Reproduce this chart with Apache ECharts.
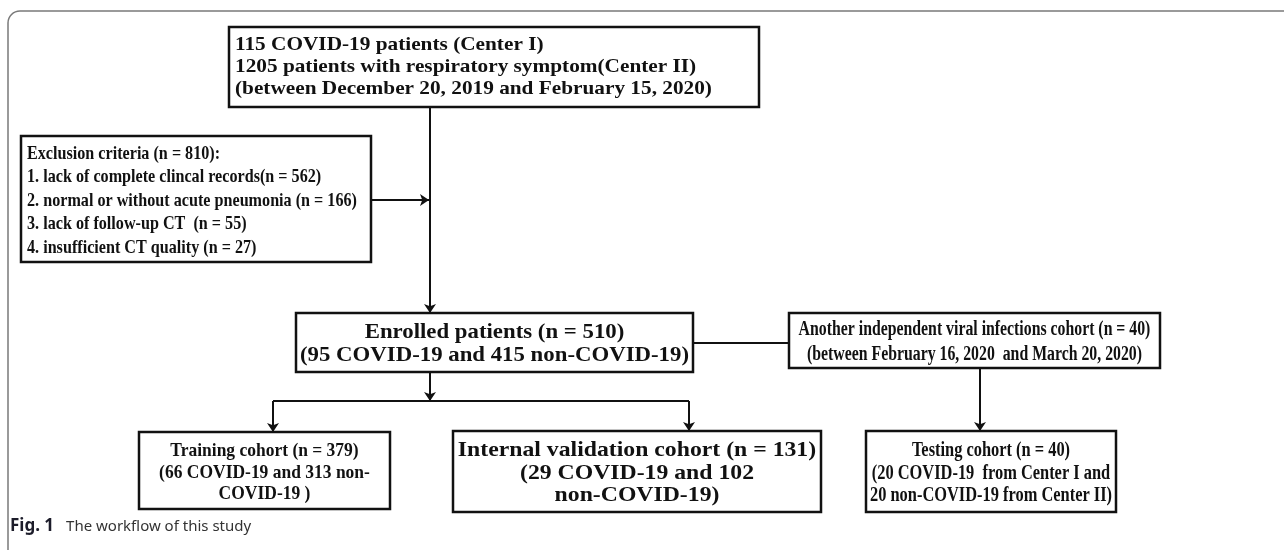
<!DOCTYPE html>
<html>
<head>
<meta charset="utf-8">
<script src="https://cdn.jsdelivr.net/npm/echarts@6/dist/echarts.min.js"></script>
<style>
  html, body { margin: 0; padding: 0; background: #fff; }
  #chart { width: 1284px; height: 550px; }
</style>
</head>
<body>
<div id="chart"></div>
<script>
// box texts (flowchart nodes)
const boxLabels = [
  '115 COVID-19 patients (Center I)\n1205 patients with respiratory symptom(Center II)\n(between December 20, 2019 and February 15, 2020)',
  'Exclusion criteria (n = 810):\n1. lack of complete clincal records(n = 562)\n2. normal or without acute pneumonia (n = 166)\n3. lack of follow-up CT  (n = 55)\n4. insufficient CT quality (n = 27)',
  'Enrolled patients (n = 510)\n(95 COVID-19 and 415 non-COVID-19)',
  'Another independent viral infections cohort (n = 40)\n(between February 16, 2020  and March 20, 2020)',
  'Training cohort (n = 379)\n(66 COVID-19 and 313 non-\nCOVID-19 )',
  'Internal validation cohort (n = 131)\n(29 COVID-19 and 102\nnon-COVID-19)',
  'Testing cohort (n = 40)\n(20 COVID-19  from Center I and\n20 non-COVID-19 from Center II)'
]
const captionLabel = 'Fig. 1'
const captionText = 'The workflow of this study'

// layout in axis units (1 unit = 1px):
// x0, y0, x1, y1, align, font size, text x-stretch, line height, text y shift
const boxLayout = [
  [229, 27, 759, 107, 'left', 19, 1.12, 22, 0],
  [21, 136, 371, 262, 'left', 19, 0.85, 23.5, 2],
  [296, 313, 693, 372, 'center', 21, 1.086, 23, 2],
  [789, 313, 1160, 368, 'center', 20, 0.79, 25, 2],
  [139, 432, 390, 509, 'center', 19, 0.92, 21.5, 2.5],
  [453, 431, 821, 512, 'center', 21, 1.13, 22.5, 2],
  [866, 431, 1116, 512, 'center', 20, 0.82, 22.5, 2]
]

// connectors (polylines); arrow = arrowhead at the last point
const links = [
  { pts: [[430, 107], [430, 313]], arrow: true },
  { pts: [[371, 200], [429, 200]], arrow: true },
  { pts: [[430, 372], [430, 401]], arrow: true },
  { pts: [[430, 401], [273, 401], [273, 432]], arrow: true },
  { pts: [[430, 401], [689, 401], [689, 431]], arrow: true },
  { pts: [[693, 343], [789, 343]], arrow: false },
  { pts: [[980, 368], [980, 431]], arrow: true }
]

const serif = '"Liberation Serif", "Times New Roman", serif'
const chart = echarts.init(document.getElementById('chart'))

const boxData = boxLayout.map((b, i) => [b[0], b[1], b[2], b[3], i])

// split polylines into straight segments; only the final one carries the arrow
const arrowSegs = []
const plainSegs = []
links.forEach(l => {
  for (let k = 0; k < l.pts.length - 1; k++) {
    const seg = { coords: [l.pts[k], l.pts[k + 1]] }
    if (l.arrow && k === l.pts.length - 2) arrowSegs.push(seg)
    else plainSegs.push(seg)
  }
})

const linkSeries = (data, arrow) => ({
  type: 'lines',
  coordinateSystem: 'cartesian2d',
  silent: true,
  z: 1,
  symbol: ['none', arrow ? 'arrow' : 'none'],
  symbolSize: 9,
  data,
  lineStyle: { color: '#111', width: 2, opacity: 1 }
})

chart.setOption({
  animation: false,
  grid: { left: 0, right: 0, top: 0, bottom: 0 },
  xAxis: { type: 'value', min: 0, max: 1284, show: false },
  yAxis: { type: 'value', min: 0, max: 550, inverse: true, show: false },
  graphic: [
    {
      type: 'rect',
      shape: { x: 8, y: 11, width: 1400, height: 700, r: [12, 0, 0, 0] },
      style: { fill: 'none', stroke: '#7a7a7a', lineWidth: 1.5 },
      silent: true
    },
    {
      type: 'text',
      left: 10,
      top: 518,
      style: {
        text: '{b|' + captionLabel + '}{n|' + captionText + '}',
        rich: {
          b: { font: 'bold 17px "Noto Sans", sans-serif', fill: '#1c1c2a' },
          n: { font: '15px "Noto Sans", sans-serif', fill: '#333', padding: [0, 0, 0, 12] }
        }
      }
    }
  ],
  series: [
    linkSeries(arrowSegs, true),
    linkSeries(plainSegs, false),
    {
      type: 'custom',
      silent: true,
      z: 2,
      data: boxData,
      renderItem: (params, api) => {
        const i = api.value(4)
        const lay = boxLayout[i]
        const p0 = api.coord([api.value(0), api.value(1)])
        const p1 = api.coord([api.value(2), api.value(3)])
        const align = lay[4]
        const tx = align === 'left' ? p0[0] + 6 : (p0[0] + p1[0]) / 2
        return {
          type: 'group',
          children: [
            {
              type: 'rect',
              shape: { x: p0[0], y: p0[1], width: p1[0] - p0[0], height: p1[1] - p0[1] },
              style: { fill: '#fff', stroke: '#111', lineWidth: 2.5 }
            },
            {
              type: 'text',
              x: tx,
              y: (p0[1] + p1[1]) / 2 + lay[8],
              scaleX: lay[6],
              style: {
                text: boxLabels[i],
                x: 0,
                y: 0,
                align: align,
                verticalAlign: 'middle',
                font: 'bold ' + lay[5] + 'px ' + serif,
                lineHeight: lay[7],
                fill: '#111'
              }
            }
          ]
        }
      }
    }
  ]
})
</script>
</body>
</html>
